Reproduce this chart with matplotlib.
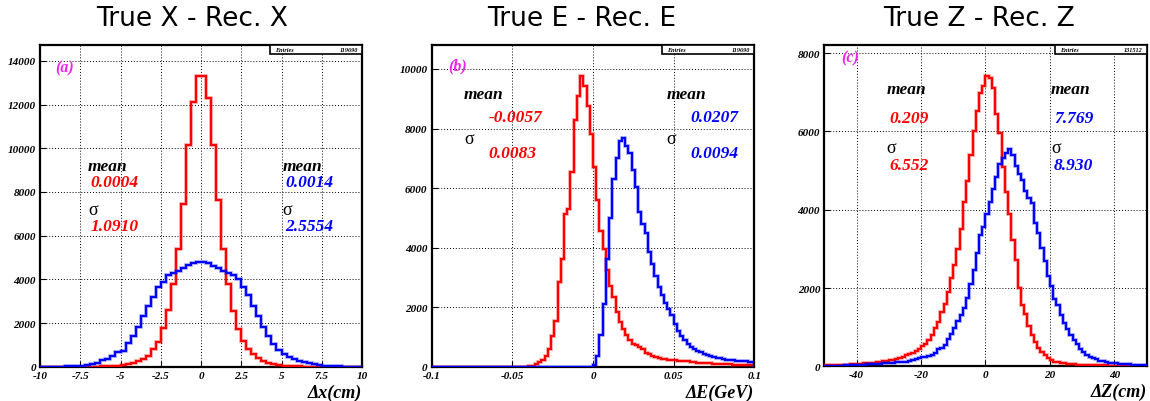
import matplotlib
matplotlib.use("Agg")
import matplotlib.pyplot as plt
import numpy as np
from matplotlib.patches import Rectangle

SERIF = ["Liberation Serif", "DejaVu Serif"]

# ---------------- (a) True X - Rec. X : 64 bins on [-10, 10] ----------------
X_RANGE = (-10.0, 10.0)
X_RED = [0, 0, 0, 0, 0, 0, 0, 0, 1, 2, 4, 6, 10, 18, 30, 50,
         75, 110, 170, 250, 364, 485, 818, 1150, 1760, 2600, 3770, 5400, 7460, 10170, 12100, 13300,
         13300, 12280, 10170, 7615, 5400, 3790, 2570, 1730, 1190, 810, 580, 380, 260, 170, 110, 75,
         50, 30, 18, 10, 6, 4, 2, 1, 0, 0, 0, 0, 0, 0, 0, 0]
X_BLUE = [0, 1, 2, 4, 7, 12, 20, 35, 55, 80, 115, 170, 288, 364, 485, 667,
          742, 1100, 1400, 1800, 2300, 2757, 3200, 3650, 3900, 4200, 4300, 4400, 4520, 4650, 4750, 4815,
          4800, 4730, 4630, 4500, 4400, 4300, 4200, 4000, 3650, 3260, 2800, 2300, 1800, 1400, 1050, 760,
          600, 450, 350, 270, 200, 150, 110, 80, 55, 35, 22, 14, 8, 4, 2, 1]

# ---------------- (b) True E - Rec. E : 100 bins on [-0.1, 0.1] ----------------
E_RANGE = (-0.1, 0.1)
E_RED = [0] * 26 + [1, 3, 6, 12,
         25, 45, 100, 157, 247, 360, 606, 1055, 1537, 2850,
         3613, 5150, 5300, 6553, 8290, 9090, 9760, 9425, 8774, 7820,
         6700, 5610, 4567, 3950, 3254, 2720, 2350, 1840, 1500, 1280,
         1060, 890, 770, 740, 680, 620, 480, 437, 380, 340,
         300, 280, 265, 250, 240, 230, 215, 205, 195, 185,
         170, 160, 150, 140, 135, 130, 122, 115, 105, 100,
         95, 90, 85, 82, 80, 78, 75, 72, 70, 68]
E_BLUE = [0] * 50 + [60, 380, 1080, 2130, 3640, 4990, 6310, 7020, 7570, 7680,
          7410, 7190, 6600, 6030, 5200, 4800, 4500, 3870, 3450, 3050,
          2700, 2400, 2150, 1950, 1750, 1450, 1200, 1030, 900, 780,
          670, 600, 540, 490, 440, 400, 365, 345, 310, 290,
          270, 250, 240, 225, 210, 200, 192, 185, 180, 175]

# ---------------- (c) True Z - Rec. Z : 100 bins on [-50, 50] ----------------
Z_RANGE = (-50.0, 50.0)
Z_RED = [28, 30, 32, 34, 37, 40, 43, 46, 50, 55,
         60, 66, 72, 80, 88, 95, 105, 115, 125, 135,
         150, 170, 190, 215, 250, 280, 320, 350, 400, 450,
         530, 560, 680, 800, 980, 1130, 1380, 1600, 1900, 2250,
         2600, 3000, 3500, 4200, 4740, 5400, 6000, 6530, 6980, 7150,
         7420, 7360, 7100, 6440, 5960, 5100, 4450, 3900, 3220, 2710,
         2000, 1555, 1340, 1040, 790, 615, 460, 375, 290, 200,
         160, 120, 100, 85, 72, 62, 55, 50, 45, 42,
         38, 35, 32, 30, 28, 26, 24, 22, 20, 19,
         18, 17, 16, 15, 14, 13, 12, 11, 10, 9]
Z_BLUE = [13, 14, 15, 16, 18, 20, 22, 25, 28, 32,
          36, 40, 45, 50, 55, 60, 65, 70, 75, 80,
          85, 92, 100, 100, 110, 120, 128, 160, 187, 200,
          230, 240, 272, 300, 340, 443, 480, 545, 700, 826,
          970, 1150, 1300, 1500, 1750, 2100, 2450, 2900, 3350, 3565,
          3900, 4200, 4535, 4830, 5170, 5320, 5450, 5550, 5400, 5105,
          4900, 4765, 4470, 4300, 4165, 3650, 3395, 3027, 2685, 2310,
          2052, 1727, 1556, 1300, 1100, 950, 800, 680, 560, 450,
          360, 300, 250, 210, 175, 145, 125, 108, 95, 82,
          75, 68, 60, 55, 50, 45, 42, 38, 35, 32]

TITLES = ["True X - Rec. X", "True E - Rec. E", "True Z - Rec. Z"]
XLABELS = ["Δx(cm)", "ΔE(GeV)", "ΔZ(cm)"]
TAGS = ["(a)", "(b)", "(c)"]
ENTRIES = ["119690", "119690", "131512"]
RED_STATS = [("0.0004", "1.0910"), ("-0.0057", "0.0083"), ("0.209", "6.552")]
BLUE_STATS = [("0.0014", "2.5554"), ("0.0207", "0.0094"), ("7.769", "8.930")]

X_TICKS = [-10, -7.5, -5, -2.5, 0, 2.5, 5, 7.5, 10]
X_TICKLABELS = ["-10", "-7.5", "-5", "-2.5", "0", "2.5", "5", "7.5", "10"]
E_TICKS = [-0.1, -0.05, 0, 0.05, 0.1]
E_TICKLABELS = ["-0.1", "-0.05", "0", "0.05", "0.1"]
Z_TICKS = [-40, -20, 0, 20, 40]
Z_TICKLABELS = ["-40", "-20", "0", "20", "40"]

RED = "#ff0000"
BLUE = "#0000ff"
MAGENTA = "#ee22ee"


def bold_it(size):
    return dict(family=SERIF, fontweight="bold", style="italic", fontsize=size)


def draw_hist(ax, edges, vals, color):
    ax.stairs(vals, edges, color=color, lw=2.8, alpha=0.25, zorder=3)
    ax.stairs(vals, edges, color=color, lw=1.6, zorder=3)


def draw_panel(ax, rng, red, blue, ymax, xticks, xticklabels, yticks, k, txt):
    edges_r = np.linspace(rng[0], rng[1], len(red) + 1)
    edges_b = np.linspace(rng[0], rng[1], len(blue) + 1)
    draw_hist(ax, edges_r, red, RED)
    draw_hist(ax, edges_b, blue, BLUE)
    ax.set_xlim(*rng)
    ax.set_ylim(0, ymax)
    ax.set_xticks(xticks)
    ax.set_xticklabels(xticklabels)
    ax.set_yticks(yticks)
    ax.set_yticklabels([str(int(v)) for v in yticks])
    for lab in ax.get_xticklabels() + ax.get_yticklabels():
        lab.set_fontfamily(SERIF)
        lab.set_fontweight("bold")
        lab.set_fontstyle("italic")
        lab.set_fontsize(8)
    ax.tick_params(direction="in", length=4, width=0.8, pad=3)
    ax.grid(True, color="black", linestyle=(0, (1, 2)), linewidth=0.7)
    ax.set_axisbelow(True)
    for sp in ax.spines.values():
        sp.set_linewidth(1.6)

    # stats box
    x0 = 0.715
    ax.add_patch(Rectangle((x0, 0.971), 1 - x0, 0.029, transform=ax.transAxes,
                           facecolor="white", edgecolor="black", lw=1.2,
                           zorder=6, clip_on=False))
    ax.text(0.73, 0.9855, "Entries", transform=ax.transAxes, ha="left", va="center",
            zorder=7, **bold_it(4.5))
    ax.text(0.988, 0.9855, ENTRIES[k], transform=ax.transAxes, ha="right", va="center",
            zorder=7, **bold_it(4.5))

    ax.text(txt["tag"][0], txt["tag"][1], TAGS[k], transform=ax.transAxes,
            ha="left", va="center", color=MAGENTA, zorder=7, **bold_it(11.5))

    lx, rx, dx = txt["cols"]
    y_mean, y_mval, y_sig, y_sval = txt["rows"]
    for col, stats, color in ((lx, RED_STATS[k], RED), (rx, BLUE_STATS[k], BLUE)):
        ax.text(col, y_mean, "mean", transform=ax.transAxes, ha="left", va="center",
                color="black", zorder=7, **bold_it(12.5))
        ax.text(col + dx, y_mval, stats[0], transform=ax.transAxes, ha="left",
                va="center", color=color, zorder=7, **bold_it(12.5))
        ax.text(col, y_sig, "σ", transform=ax.transAxes, ha="left", va="center",
                color="black", family=SERIF, fontsize=13, zorder=7)
        ax.text(col + dx, y_sval, stats[1], transform=ax.transAxes, ha="left",
                va="center", color=color, zorder=7, **bold_it(12.5))

    ax.text(1.0, -0.079, XLABELS[k], transform=ax.transAxes, ha="right", va="center",
            **bold_it(13))


fig = plt.figure(figsize=(11.5, 4.02), dpi=100, facecolor="white")

axes_pos = [
    [0.0348, 0.0853, 0.2800, 0.8010],
    [0.3754, 0.0846, 0.2805, 0.8017],
    [0.7168, 0.0863, 0.2803, 0.8000],
]
title_x = [192.5 / 1150, 582 / 1150, 979.5 / 1150]

layout = [
    dict(tag=(0.047, 0.931), cols=(0.149, 0.754, 0.007), rows=(0.624, 0.574, 0.488, 0.438)),
    dict(tag=(0.051, 0.936), cols=(0.100, 0.728, 0.075), rows=(0.848, 0.775, 0.708, 0.665)),
    dict(tag=(0.051, 0.960), cols=(0.192, 0.703, 0.009), rows=(0.863, 0.773, 0.680, 0.626)),
]

specs = [
    (X_RANGE, X_RED, X_BLUE, 14740, X_TICKS, X_TICKLABELS, np.arange(0, 14001, 2000)),
    (E_RANGE, E_RED, E_BLUE, 10815, E_TICKS, E_TICKLABELS, np.arange(0, 10001, 2000)),
    (Z_RANGE, Z_RED, Z_BLUE, 8215, Z_TICKS, Z_TICKLABELS, np.arange(0, 8001, 2000)),
]

for k, (pos, spec) in enumerate(zip(axes_pos, specs)):
    ax = fig.add_axes(pos)
    rng, red, blue, ymax, xt, xtl, yt = spec
    draw_panel(ax, rng, red, blue, ymax, xt, xtl, yt, k, layout[k])
    fig.text(title_x[k], 0.953, TITLES[k], ha="center", va="center",
             fontsize=19, family="DejaVu Sans")

fig.savefig("out.png", dpi=100, facecolor="white")
plt.close(fig)
